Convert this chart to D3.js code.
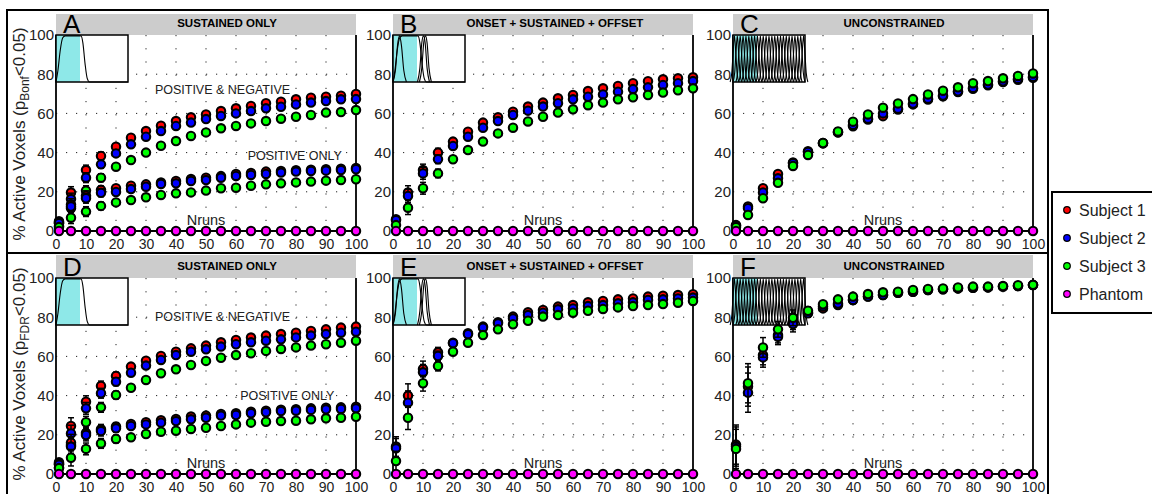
<!DOCTYPE html>
<html>
<head>
<meta charset="utf-8">
<script src="https://cdn.jsdelivr.net/npm/d3@7"></script>
<style>
body { margin: 0; background: #fff; }
text { font-family: "Liberation Sans", Arial, Helvetica, sans-serif; }
</style>
</head>
<body>
<script>
// ---- data -----------------------------------------------------------
var nRuns = [1, 5, 10, 15, 20, 25, 30, 35, 40, 45, 50, 55, 60, 65, 70, 75, 80, 85, 90, 95, 100];
var xTicks = [0, 10, 20, 30, 40, 50, 60, 70, 80, 90, 100];
var yTicks = [0, 20, 40, 60, 80, 100];
var legendNames = ["Subject 1", "Subject 2", "Subject 3", "Phantom"];
var legendColors = ["#ff0000", "#0000ff", "#00ff00", "#ff00ff"];
var phantom = [0, 0, 0, 0, 0, 0, 0, 0, 0, 0, 0, 0, 0, 0, 0, 0, 0, 0, 0, 0, 0];

// A: Bonferroni, sustained only (positive & negative / positive only)
var aBoth1 = [5, 19.6, 31.1, 38.3, 43, 47.6, 51, 53.7, 56.1, 58, 59.5, 61.2, 62.6, 63.8, 65.2, 66, 67.2, 68, 68.5, 69, 69.9];
var aBoth2 = [4.5, 16.3, 27.2, 34, 39.6, 44.2, 48.1, 51, 53.6, 55.3, 57.1, 58.7, 60, 61.2, 62.6, 63.4, 64.6, 65.5, 66.3, 67.2, 67.3];
var aBoth3 = [2.5, 11.6, 20.6, 27.2, 32.8, 36.2, 40, 43.5, 45.9, 48.5, 50.3, 52.4, 53.6, 54.9, 56.1, 57.3, 58.3, 59.2, 60.4, 60.7, 61.7];
var aPos1 = [4, 13.5, 18, 21, 21.8, 23.1, 23.8, 24.8, 25.5, 26.5, 27.2, 28, 29.1, 29.6, 30.3, 30.6, 31, 31.3, 31.5, 31.8, 32.2];
var aPos2 = [4, 12.5, 16.7, 19.5, 19.9, 21.4, 22.6, 24, 24.3, 25.5, 26, 27.2, 28.1, 28.6, 29.1, 29.8, 30.3, 30.6, 30.8, 31.1, 31.5];
var aPos3 = [2, 6.8, 9.9, 12.8, 14.6, 15.8, 17.2, 18.4, 19.2, 19.7, 20.6, 21.8, 22.1, 23.1, 23.8, 24.3, 24.8, 25.2, 25.7, 26, 26.4];
var errA = [1.5, 3, 2.5, 2, 1.5, 1.2, 1, 1, 1, 0.9, 0.9, 0.9, 0.8, 0.8, 0.8, 0.8, 0.8, 0.8, 0.8, 0.8, 0.8];

// B: Bonferroni, onset + sustained + offset
var b1 = [6, 19.6, 31.1, 40, 45.6, 50.7, 55.3, 58, 60.9, 63.5, 65.5, 67.7, 69.4, 71.4, 72.8, 74, 75.4, 76.4, 77.4, 77.9, 78.4];
var b2 = [5.5, 17.9, 29.4, 36.6, 43.4, 48.1, 52.7, 56.1, 59.2, 61.4, 63.5, 65.2, 67.2, 68.5, 69.7, 71.1, 72.4, 73.3, 74.5, 75.4, 76.5];
var b3 = [3, 11.9, 21.8, 29.4, 36.6, 41.3, 45.6, 49.8, 52.7, 55.9, 58.3, 60.4, 62.1, 64.2, 65.5, 67.2, 68.2, 69.4, 70.6, 71.8, 72.8];
var errB = [1.5, 3.5, 3, 2.2, 1.6, 1.3, 1.1, 1, 1, 1, 0.9, 0.9, 0.9, 0.9, 0.9, 0.9, 0.9, 0.9, 0.9, 0.9, 0.9];

// C: Bonferroni, unconstrained
var c1 = [3, 12.5, 21.8, 29.1, 35, 40.7, 44.9, 50.4, 53.4, 56.9, 58.6, 62, 64.6, 67.1, 68.7, 70.9, 72.6, 74.3, 76, 77.2, 78.2];
var c2 = [2.8, 11.6, 19.7, 26.9, 34.6, 40.3, 44.7, 50.3, 54.1, 57.3, 60, 62.4, 65, 67.5, 69.1, 71.3, 73, 74.7, 76.4, 77.6, 78.6];
var c3 = [2, 8.2, 16.7, 24.6, 33.2, 38.8, 44.9, 50.8, 55.8, 59.5, 62.9, 65.1, 67.3, 69.7, 71.6, 73.3, 75.4, 76.5, 77.9, 79.1, 80.4];
var errC = [1, 1.5, 1.5, 1.5, 1.5, 1.5, 1.5, 1.8, 1.5, 1.3, 1.2, 1.2, 1.2, 1.2, 1.2, 1.2, 1.2, 1.2, 1.2, 1.2, 1.2];

// D: FDR, sustained only
var dBoth1 = [6, 24.5, 36.9, 44.9, 50, 54.8, 57.8, 60.2, 62.4, 64.1, 65.5, 67.2, 68.4, 69.6, 70.6, 71.4, 72.1, 73, 73.8, 74.7, 75.2];
var dBoth2 = [5.4, 20.7, 33.5, 41.2, 47.1, 51.7, 55.3, 58.2, 60.7, 62.4, 63.6, 65, 66.2, 67.2, 68, 68.7, 69.7, 70.6, 71.4, 72.1, 72.6];
var dBoth3 = [3.2, 14.8, 26.4, 34, 40.3, 44, 48, 51.4, 53.4, 55.6, 57.7, 59.3, 60.7, 61.6, 62.8, 63.8, 64.6, 65.5, 66.2, 67, 68];
var dPos1 = [5, 16, 20.9, 22.8, 24.2, 25.5, 26.4, 27.4, 28.1, 29.3, 29.8, 30.6, 31, 31.8, 32.3, 32.8, 33, 33.5, 33.8, 34, 34.3];
var dPos2 = [4.8, 14, 19.9, 21.9, 23.3, 24.5, 25.3, 26.2, 27, 27.9, 28.7, 29.8, 30.1, 31, 31.5, 32.1, 32.3, 32.7, 33, 33.2, 33.5];
var dPos3 = [3, 8.3, 12.8, 15.6, 17.9, 18.7, 20.4, 21.6, 22.1, 23, 23.6, 24.5, 25.3, 26.2, 26.7, 27, 27.2, 27.9, 28.4, 28.7, 29.2];
var errD = [1.5, 4.2, 3, 2.5, 2, 1.5, 1.2, 1, 1, 1, 0.9, 0.9, 0.9, 0.9, 0.9, 0.9, 0.9, 0.9, 0.9, 0.9, 0.9];

// E: FDR, onset + sustained + offset
var e1 = [14, 40, 53.6, 62.1, 67, 71.8, 75.2, 77.4, 80.3, 82.5, 83.7, 85.4, 86.2, 87.6, 88.3, 89.1, 89.6, 90.5, 91, 91.3, 91.7];
var e2 = [13.1, 36.4, 51.9, 60.2, 66.7, 71.3, 74.7, 76.9, 79.4, 81.1, 82.3, 84, 84.5, 85.7, 86.2, 87.1, 87.6, 88.8, 89.1, 89.6, 90];
var e3 = [6.6, 28.7, 46.3, 55.1, 62.4, 67, 70.9, 73.8, 76.4, 78.2, 80.3, 81.1, 82.3, 83.3, 84.2, 85, 85.7, 86.2, 86.7, 87.4, 88.3];
var errE = [5, 6, 4, 2.5, 1.5, 1.2, 1, 1, 0.9, 0.9, 0.8, 0.8, 0.8, 0.8, 0.8, 0.8, 0.8, 0.8, 0.8, 0.8, 0.8];

// F: FDR, unconstrained
var f1 = [15, 44.6, 60.7, 70.9, 77.7, 82.3, 84.5, 86.2, 88.8, 90.5, 91.3, 92.5, 93, 93.9, 94.2, 94.7, 95, 95.2, 95.6, 95.9, 96.4];
var f2 = [14, 41.5, 59.5, 70, 76.5, 82, 85.5, 87, 88.8, 90.5, 91.3, 92.5, 93, 93.9, 94.2, 94.7, 95, 95.2, 95.6, 95.9, 96.4];
var f3 = [12.8, 46.3, 64.6, 73.8, 79.7, 83.3, 86.6, 89.1, 90.5, 91.8, 92.7, 93, 93.9, 94.4, 94.7, 95.2, 95.6, 95.6, 95.9, 96.3, 96.5];
var errF = [10, 10, 5, 4, 4, 2, 1.5, 1.2, 1, 1, 0.8, 0.8, 0.8, 0.8, 0.8, 0.8, 0.8, 0.8, 0.8, 0.8, 0.8];

// inset sketches of the response models (time s, amplitude)
var insetSustained = [[0, 0], [0.8, 0.25], [1.8, 0.7], [2.8, 0.96], [3.8, 1], [10.4, 1], [11.2, 0.85], [12.1, 0.4], [13, 0.08], [14, 0], [30, 0]];
var insetOnset = [[0, 0], [1, 0.25], [1.9, 0.8], [2.7, 1], [3.5, 0.8], [4.5, 0.25], [5.6, 0]];
var insetOffset1 = [[10.2, 0], [11.2, 0.3], [12, 0.85], [12.7, 1], [13.4, 0.85], [14.2, 0.3], [15.2, 0]];
var insetOffset2 = [[11, 0], [12, 0.3], [12.8, 0.85], [13.5, 1], [14.2, 0.85], [15, 0.3], [16, 0]];
var firLags = [0.6, 1.8, 3.0, 4.2, 5.4, 6.6, 7.8, 9.0, 10.2, 11.4, 12.6, 13.8, 15.0, 16.2, 17.4, 18.6, 19.8, 21.0, 22.2, 23.4, 24.6, 25.8, 27.0, 28.2, 29.4];
var firShape = [[-1.8, 0], [-1.1, 0.2], [-0.6, 0.6], [0, 1], [0.6, 0.6], [1.1, 0.2], [1.8, 0]];
var stimBlock = [0, 10];

// ---- layout ---------------------------------------------------------
var W = 1152, H = 494;
var colLeft = [56, 393, 733];
var plotW = 300, plotH = 196;
var rowTop = [35, 278];
var headTop = [14, 255];
var insetW = 72, insetH = 47;
var font = "'Liberation Sans', Arial, Helvetica, sans-serif";

var panels = [
  {id: "A", title: "SUSTAINED ONLY", row: 0, col: 0, titleDx: 21, inset: "sustained", err: errA,
   series: [aBoth1, aBoth2, aBoth3, aPos1, aPos2, aPos3],
   notes: [{t: "POSITIVE & NEGATIVE", x: 55.5, y: 70}, {t: "POSITIVE ONLY", x: 79.6, y: 36}]},
  {id: "B", title: "ONSET + SUSTAINED + OFFSET", row: 0, col: 1, titleDx: 12, inset: "osf", err: errB,
   series: [b1, b2, b3], notes: []},
  {id: "C", title: "UNCONSTRAINED", row: 0, col: 2, titleDx: 11, inset: "fir", err: errC,
   series: [c1, c2, c3], notes: []},
  {id: "D", title: "SUSTAINED ONLY", row: 1, col: 0, titleDx: 21, inset: "sustained", err: errD,
   series: [dBoth1, dBoth2, dBoth3, dPos1, dPos2, dPos3],
   notes: [{t: "POSITIVE & NEGATIVE", x: 55.5, y: 78}, {t: "POSITIVE ONLY", x: 77.1, y: 37.8}]},
  {id: "E", title: "ONSET + SUSTAINED + OFFSET", row: 1, col: 1, titleDx: 12, inset: "osf", err: errE,
   series: [e1, e2, e3], notes: []},
  {id: "F", title: "UNCONSTRAINED", row: 1, col: 2, titleDx: 11, inset: "fir", err: errF,
   series: [f1, f2, f3], notes: []}
];

var svg = d3.select("body").append("svg")
  .attr("width", W).attr("height", H)
  .style("display", "block");

svg.append("rect").attr("width", W).attr("height", H).attr("fill", "#fff");

// outer frame and row divider
svg.append("rect")
  .attr("x", 7).attr("y", 10).attr("width", 1041).attr("height", 500)
  .attr("fill", "none").attr("stroke", "#000").attr("stroke-width", 2);
svg.append("line")
  .attr("x1", 7).attr("x2", 1048).attr("y1", 253).attr("y2", 253)
  .attr("stroke", "#000").attr("stroke-width", 2);

panels.forEach(function(p) {
  var left = colLeft[p.col], top = rowTop[p.row], bottom = top + plotH;
  var x = d3.scaleLinear().domain([0, 100]).range([left, left + plotW]);
  var y = d3.scaleLinear().domain([0, 100]).range([bottom, top]);
  var g = svg.append("g");

  // header band
  g.append("rect")
    .attr("x", left).attr("y", headTop[p.row])
    .attr("width", plotW).attr("height", top - headTop[p.row])
    .attr("fill", "#cccccc");
  g.append("text")
    .attr("x", left + 7).attr("y", top - 2)
    .style("font-size", "26px").attr("fill", "#000")
    .text(p.id);
  g.append("text")
    .attr("x", left + plotW / 2 + p.titleDx).attr("y", top - 8)
    .attr("text-anchor", "middle")
    .style("font-size", "11.5px").style("font-weight", "bold")
    .text(p.title);

  // dotted grid
  g.append("g").selectAll("line")
    .data(xTicks.filter(function(d) { return d > 0 && d < 100; }))
    .enter().append("line")
    .attr("x1", d => x(d)).attr("x2", d => x(d))
    .attr("y1", top).attr("y2", bottom)
    .attr("stroke", "#222").attr("stroke-width", 1)
    .attr("stroke-dasharray", "1.2,12");
  g.append("g").selectAll("line")
    .data(yTicks.filter(function(d) { return d > 0 && d < 100; }))
    .enter().append("line")
    .attr("x1", left).attr("x2", left + plotW)
    .attr("y1", d => y(d)).attr("y2", d => y(d))
    .attr("stroke", "#222").attr("stroke-width", 1)
    .attr("stroke-dasharray", "1.2,8.8");

  // axes
  var xAxis = g.append("g")
    .attr("transform", "translate(0," + bottom + ")")
    .call(d3.axisBottom(x).tickValues(xTicks).tickSize(0).tickPadding(8));
  var yAxis = g.append("g")
    .attr("transform", "translate(" + left + ",0)")
    .call(d3.axisLeft(y).tickValues(yTicks).tickSize(0).tickPadding(2));
  xAxis.select(".domain").remove();
  yAxis.select(".domain").remove();
  xAxis.selectAll("text").style("font-size", "14px").attr("fill", "#222").style("font-family", font);
  yAxis.selectAll("text").style("font-size", "15px").attr("fill", "#222").style("font-family", font);

  g.append("line").attr("x1", left).attr("x2", left).attr("y1", top).attr("y2", bottom)
    .attr("stroke", "#000").attr("stroke-width", 1.8);
  g.append("line").attr("x1", left + plotW).attr("x2", left + plotW).attr("y1", top).attr("y2", bottom)
    .attr("stroke", "#000").attr("stroke-width", 1.8);

  // inset
  var ix = d3.scaleLinear().domain([0, 30]).range([left, left + insetW]);
  var iy = d3.scaleLinear().domain([0, 1.02]).range([top + insetH, top]);
  var ig = g.append("g");
  ig.append("rect").attr("x", left).attr("y", top).attr("width", insetW).attr("height", insetH).attr("fill", "#fff");
  ig.append("rect")
    .attr("x", ix(stimBlock[0])).attr("y", top)
    .attr("width", ix(stimBlock[1]) - ix(stimBlock[0])).attr("height", insetH)
    .attr("fill", "#8ee8e8");
  var iline = d3.line().x(d => ix(d[0])).y(d => iy(d[1])).curve(d3.curveMonotoneX);
  var curves;
  if (p.inset === "sustained") curves = [insetSustained];
  else if (p.inset === "osf") curves = [insetOnset, insetSustained, insetOffset1, insetOffset2];
  else curves = firLags.map(function(c) { return firShape.map(function(s) { return [c + s[0], s[1]]; }); });
  ig.selectAll("path.curve").data(curves).enter().append("path")
    .attr("class", "curve")
    .attr("d", iline)
    .attr("fill", "none").attr("stroke", "#000")
    .attr("stroke-width", p.inset === "fir" ? 1.1 : 1.1);
  ig.append("rect").attr("x", left).attr("y", top).attr("width", insetW).attr("height", insetH)
    .attr("fill", "none").attr("stroke", "#000").attr("stroke-width", 1.5);

  // annotations
  p.notes.forEach(function(n) {
    g.append("text")
      .attr("x", x(n.x)).attr("y", y(n.y))
      .attr("text-anchor", "middle")
      .style("font-size", "12.5px").attr("fill", "#222")
      .text(n.t);
  });
  g.append("text")
    .attr("x", x(50)).attr("y", y(3))
    .attr("text-anchor", "middle")
    .style("font-size", "14.5px").attr("fill", "#222")
    .text("Nruns");

  // error bars + markers (subject 1, 2, 3 drawn in that order)
  p.series.forEach(function(vals, si) {
    var color = legendColors[si % 3];
    var pts = vals.map(function(v, i) { return {n: nRuns[i], v: v, e: p.err[i]}; });
    var sg = g.append("g");
    sg.selectAll("line.eb").data(pts).enter().append("line").attr("class", "eb")
      .attr("x1", d => x(d.n)).attr("x2", d => x(d.n))
      .attr("y1", d => y(Math.max(0, d.v - d.e))).attr("y2", d => y(d.v + d.e))
      .attr("stroke", "#000").attr("stroke-width", 1.5);
    sg.selectAll("line.ct").data(pts).enter().append("line").attr("class", "ct")
      .attr("x1", d => x(d.n) - 3).attr("x2", d => x(d.n) + 3)
      .attr("y1", d => y(d.v + d.e)).attr("y2", d => y(d.v + d.e))
      .attr("stroke", "#000").attr("stroke-width", 1.5);
    sg.selectAll("line.cb").data(pts).enter().append("line").attr("class", "cb")
      .attr("x1", d => x(d.n) - 3).attr("x2", d => x(d.n) + 3)
      .attr("y1", d => y(Math.max(0, d.v - d.e))).attr("y2", d => y(Math.max(0, d.v - d.e)))
      .attr("stroke", "#000").attr("stroke-width", 1.5);
    sg.selectAll("circle").data(pts).enter().append("circle")
      .attr("cx", d => x(d.n)).attr("cy", d => y(d.v))
      .attr("r", 4.2).attr("fill", color)
      .attr("stroke", "#000").attr("stroke-width", 2.1);
  });

  // phantom
  var ph = phantom.map(function(v, i) { return {n: nRuns[i], v: v}; });
  g.append("path")
    .datum(ph)
    .attr("d", d3.line().x(d => x(d.n)).y(d => y(d.v)))
    .attr("fill", "none").attr("stroke", "#000").attr("stroke-width", 1.8);
  g.append("line").attr("x1", left).attr("x2", left + plotW).attr("y1", bottom).attr("y2", bottom)
    .attr("stroke", "#000").attr("stroke-width", 1.8);
  g.append("g").selectAll("circle").data(ph).enter().append("circle")
    .attr("cx", d => x(d.n)).attr("cy", d => y(d.v))
    .attr("r", 4.2).attr("fill", legendColors[3])
    .attr("stroke", "#000").attr("stroke-width", 2.1);
});

// y axis titles
[{row: 0, sub: "Bonf", cy: 134}, {row: 1, sub: "FDR", cy: 374}].forEach(function(t) {
  var tx = svg.append("text")
    .attr("transform", "translate(25," + t.cy + ") rotate(-90)")
    .attr("text-anchor", "middle")
    .style("font-size", "17px").attr("fill", "#222");
  tx.append("tspan").text("% Active Voxels (p");
  tx.append("tspan").attr("dy", 4).style("font-size", "12px").text(t.sub);
  tx.append("tspan").attr("dy", -4).text("<0.05)");
});

// legend
var lg = svg.append("g");
lg.append("rect")
  .attr("x", 1052).attr("y", 192).attr("width", 120).attr("height", 121)
  .attr("fill", "#fff").attr("stroke", "#000").attr("stroke-width", 2);
var li = lg.selectAll("g.item").data(legendNames).enter().append("g").attr("class", "item")
  .attr("transform", function(d, i) { return "translate(1067," + (210 + i * 28) + ")"; });
li.append("circle").attr("r", 3.3)
  .attr("fill", (d, i) => legendColors[i])
  .attr("stroke", "#000").attr("stroke-width", 1.2);
li.append("text").attr("x", 12).attr("y", 5.7)
  .style("font-size", "16px").attr("fill", "#222")
  .text(d => d);
</script>
</body>
</html>
